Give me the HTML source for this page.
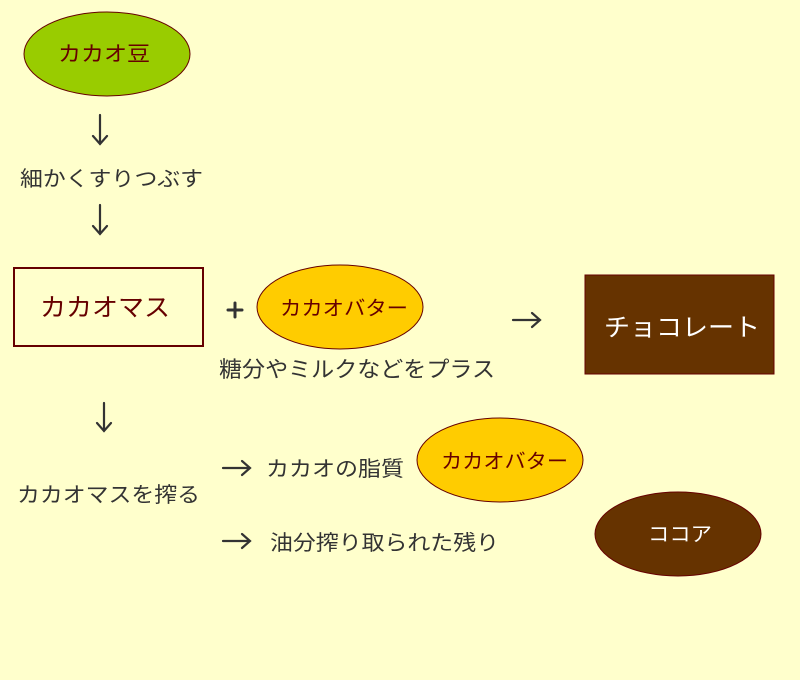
<!DOCTYPE html>
<html><head><meta charset="utf-8"><style>
html,body{margin:0;padding:0;background:#ffffcc;}
svg{display:block;}
text{font-family:"Liberation Sans","Noto Sans CJK JP",sans-serif;}
</style></head><body>
<svg width="800" height="680" viewBox="0 0 800 680" xmlns="http://www.w3.org/2000/svg">
<rect width="800" height="680" fill="#ffffcc"/>
<g stroke="#333" stroke-width="2.2" fill="none" stroke-linecap="round">
<path d="M100 115 V144 M93 136 L100 144 L107 136"/>
<path d="M100 205 V234 M93 226 L100 234 L107 226"/>
<path d="M104 403 V431 M97 423 L104 431 L111 423"/>
<path d="M513 320 H540 M532 313 L540 320 L532 327"/>
<path d="M223 468 H250 M242 461 L250 468 L242 475"/>
<path d="M223 541 H250 M242 534 L250 541 L242 548"/>
<path d="M228 310 H242 M235 303 V317" stroke-width="3"/>
</g>
<ellipse cx="107" cy="54" rx="83" ry="42" fill="#99cc00" stroke="#660000" stroke-width="1"/>
<text x="58" y="61" font-size="21" fill="#660000" textLength="92" lengthAdjust="spacingAndGlyphs">カカオ豆</text>
<text x="20" y="186" font-size="21" fill="#333" textLength="183" lengthAdjust="spacingAndGlyphs">細かくすりつぶす</text>
<rect x="14" y="268" width="189" height="78" fill="#ffffcc" stroke="#660000" stroke-width="2"/>
<text x="40" y="316" font-size="25" fill="#660000" textLength="130" lengthAdjust="spacingAndGlyphs">カカオマス</text>
<ellipse cx="340" cy="307" rx="83" ry="42" fill="#ffcc00" stroke="#660000" stroke-width="1"/>
<text x="280" y="315" font-size="20" fill="#660000" textLength="128" lengthAdjust="spacingAndGlyphs">カカオバター</text>
<text x="219" y="377" font-size="22" fill="#333" textLength="276" lengthAdjust="spacingAndGlyphs">糖分やミルクなどをプラス</text>
<rect x="585" y="275" width="189" height="99" fill="#663300" stroke="#660000" stroke-width="1"/>
<text x="604" y="336" font-size="25" fill="#ffffff" textLength="156" lengthAdjust="spacingAndGlyphs">チョコレート</text>
<text x="17" y="502" font-size="21" fill="#333" textLength="183" lengthAdjust="spacingAndGlyphs">カカオマスを搾る</text>
<text x="266" y="476" font-size="21" fill="#333" textLength="138" lengthAdjust="spacingAndGlyphs">カカオの脂質</text>
<ellipse cx="500" cy="460" rx="83" ry="42" fill="#ffcc00" stroke="#660000" stroke-width="1"/>
<text x="441" y="468" font-size="20" fill="#660000" textLength="127" lengthAdjust="spacingAndGlyphs">カカオバター</text>
<text x="270" y="550" font-size="21" fill="#333" textLength="229" lengthAdjust="spacingAndGlyphs">油分搾り取られた残り</text>
<ellipse cx="678" cy="534" rx="83" ry="42" fill="#663300" stroke="#660000" stroke-width="1"/>
<text x="648" y="541" font-size="20" fill="#ffffff" textLength="64" lengthAdjust="spacingAndGlyphs">ココア</text>
</svg>
</body></html>
